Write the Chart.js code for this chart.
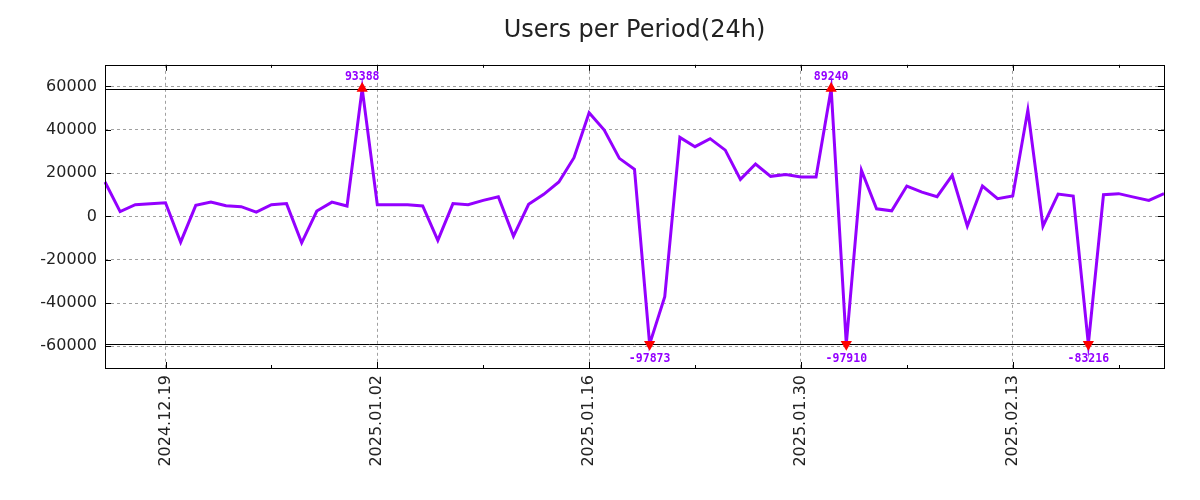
<!DOCTYPE html>
<html>
<head>
<meta charset="utf-8">
<title>Users per Period(24h)</title>
<script src="https://cdn.jsdelivr.net/npm/chart.js@4"></script>
<style>
    html, body { margin: 0; padding: 0; background: #fff; }
    #usersChart { display: block; }
</style>
</head>
<body>
<canvas id="usersChart" width="1200" height="500"></canvas>
<script>
// 날짜 (일 단위)
const dates = [
    '2024.12.15', '2024.12.16', '2024.12.17', '2024.12.18', '2024.12.19', '2024.12.20', '2024.12.21',
    '2024.12.22', '2024.12.23', '2024.12.24', '2024.12.25', '2024.12.26', '2024.12.27', '2024.12.28',
    '2024.12.29', '2024.12.30', '2024.12.31', '2025.01.01', '2025.01.02', '2025.01.03', '2025.01.04',
    '2025.01.05', '2025.01.06', '2025.01.07', '2025.01.08', '2025.01.09', '2025.01.10', '2025.01.11',
    '2025.01.12', '2025.01.13', '2025.01.14', '2025.01.15', '2025.01.16', '2025.01.17', '2025.01.18',
    '2025.01.19', '2025.01.20', '2025.01.21', '2025.01.22', '2025.01.23', '2025.01.24', '2025.01.25',
    '2025.01.26', '2025.01.27', '2025.01.28', '2025.01.29', '2025.01.30', '2025.01.31', '2025.02.01',
    '2025.02.02', '2025.02.03', '2025.02.04', '2025.02.05', '2025.02.06', '2025.02.07', '2025.02.08',
    '2025.02.09', '2025.02.10', '2025.02.11', '2025.02.12', '2025.02.13', '2025.02.14', '2025.02.15',
    '2025.02.16', '2025.02.17', '2025.02.18', '2025.02.19', '2025.02.20', '2025.02.21', '2025.02.22',
    '2025.02.23'
];

// 기간별 사용자 수 (원본 값)
const users = [
    15900, 2200, 5400, 5800, 6300, -11900, 5100,
    6600, 4900, 4500, 2000, 5400, 5900, -12200,
    2500, 6600, 4800, 93388, 5400, 5400, 5400,
    4800, -11100, 5900, 5400, 7400, 9100, -9100,
    5600, 10200, 15900, 27100, 47900, 39900, 26800,
    21700, -97873, -37100, 36500, 32200, 35900, 30600,
    17100, 24200, 18500, 19300, 18200, 18200, 89240,
    -97910, 21300, 3500, 2600, 14000, 11200, 9100,
    18900, -4500, 14000, 8200, 9400, 49100, -4500,
    10300, 9400, -83216, 10000, 10500, 8900, 7400,
    10500
];

// 축 눈금
const majorDates = ['2024.12.19', '2025.01.02', '2025.01.16', '2025.01.30', '2025.02.13'];
const minorDates = ['2024.12.26', '2025.01.09', '2025.01.23', '2025.02.06', '2025.02.20'];
const yTicks = [-60000, -40000, -20000, 0, 20000, 40000, 60000];

const CLIP = 59000;
const LINE_COLOR = '#9400ff';
const TEXT_COLOR = '#222';

const clipped = users.map(v => Math.max(-CLIP, Math.min(CLIP, v)));
// 범위를 벗어난 값만 표시 (나머지는 null)
const markers = users.map(v => (Math.abs(v) > CLIP ? Math.sign(v) * CLIP : null));

/**
 * 테두리, 안쪽 눈금, 클립 라인, 이상값 라벨
 */
const gnuplotFrame = {
    id: 'gnuplotFrame',
    beforeDatasetsDraw(chart) {
        const { ctx, chartArea: a, scales: { y } } = chart;
        ctx.save();
        ctx.strokeStyle = '#000';
        ctx.lineWidth = 1;
        [CLIP, -CLIP].forEach(v => {
            const py = Math.round(y.getPixelForValue(v)) + 0.5;
            ctx.beginPath();
            ctx.moveTo(a.left, py);
            ctx.lineTo(a.right, py);
            ctx.stroke();
        });
        ctx.restore();
    },
    afterDatasetsDraw(chart) {
        const { ctx, scales: { x, y } } = chart;
        ctx.save();
        ctx.fillStyle = LINE_COLOR;
        ctx.font = 'bold 11.5px "DejaVu Sans Mono"';
        ctx.textAlign = 'center';
        ctx.textBaseline = 'middle';
        users.forEach((v, i) => {
            if (markers[i] === null) return;
            const px = x.getPixelForValue(i);
            const py = y.getPixelForValue(markers[i]);
            ctx.fillText(String(v), px, v > 0 ? py - 12 : py + 15);
        });
        ctx.restore();
    },
    afterDraw(chart) {
        const { ctx, chartArea: a, scales: { x, y } } = chart;
        ctx.save();
        ctx.strokeStyle = '#000';
        ctx.lineWidth = 1;
        ctx.beginPath();
        yTicks.forEach(v => {
            const py = Math.round(y.getPixelForValue(v)) + 0.5;
            ctx.moveTo(a.left, py); ctx.lineTo(a.left + 6, py);
            ctx.moveTo(a.right, py); ctx.lineTo(a.right - 6, py);
        });
        const tick = (label, len) => {
            const px = Math.round(x.getPixelForValue(dates.indexOf(label))) + 0.5;
            ctx.moveTo(px, a.bottom); ctx.lineTo(px, a.bottom - len);
            ctx.moveTo(px, a.top); ctx.lineTo(px, a.top + len);
        };
        majorDates.forEach(d => tick(d, 6));
        minorDates.forEach(d => tick(d, 3));
        ctx.stroke();
        ctx.strokeRect(Math.round(a.left) + 0.5, Math.round(a.top) + 0.5,
            Math.round(a.right - a.left), Math.round(a.bottom - a.top));
        ctx.restore();
    }
};

const tickFont = { family: '"DejaVu Sans"', size: 16 };
const gridStyle = { color: '#a0a0a0', lineWidth: 1, drawTicks: false };
const dotted = { display: false, dash: [3, 3] };

new Chart(document.getElementById('usersChart'), {
    type: 'line',
    data: {
        labels: dates,
        datasets: [
            {
                label: 'clip',
                data: markers,
                showLine: false,
                pointStyle: 'triangle',
                pointRadius: 6.5,
                pointRotation: ctx => (users[ctx.dataIndex] > 0 ? 0 : 180),
                backgroundColor: '#ff0000',
                borderColor: '#ff0000',
                borderWidth: 0,
                order: 0
            },
            {
                label: 'Users',
                data: clipped,
                borderColor: LINE_COLOR,
                borderWidth: 3,
                pointRadius: 0,
                tension: 0,
                fill: false,
                order: 1
            }
        ]
    },
    options: {
        responsive: false,
        animation: false,
        devicePixelRatio: 1,
        layout: { padding: { left: 0, right: 36, top: 0, bottom: 0 } },
        plugins: {
            legend: { display: false },
            tooltip: { enabled: false },
            title: {
                display: true,
                text: 'Users per Period(24h)',
                fullSize: false,
                color: TEXT_COLOR,
                font: { family: '"DejaVu Sans"', size: 24, weight: 'normal' },
                padding: { top: 16, bottom: 20 }
            }
        },
        scales: {
            x: {
                type: 'category',
                offset: false,
                border: dotted,
                grid: gridStyle,
                ticks: {
                    autoSkip: false,
                    maxRotation: 90,
                    minRotation: 90,
                    padding: 7,
                    color: TEXT_COLOR,
                    font: tickFont
                },
                afterBuildTicks(scale) {
                    scale.ticks = scale.ticks.filter(t => majorDates.includes(dates[t.value]));
                },
                afterFit(scale) {
                    scale.height = 132;
                }
            },
            y: {
                min: -70000,
                max: 70000,
                border: dotted,
                grid: gridStyle,
                ticks: {
                    padding: 8,
                    color: TEXT_COLOR,
                    font: tickFont,
                    callback: value => String(value)
                },
                afterBuildTicks(scale) {
                    scale.ticks = yTicks.map(v => ({ value: v }));
                },
                afterFit(scale) {
                    scale.width = 105;
                }
            }
        }
    },
    plugins: [gnuplotFrame]
});
</script>
</body>
</html>
